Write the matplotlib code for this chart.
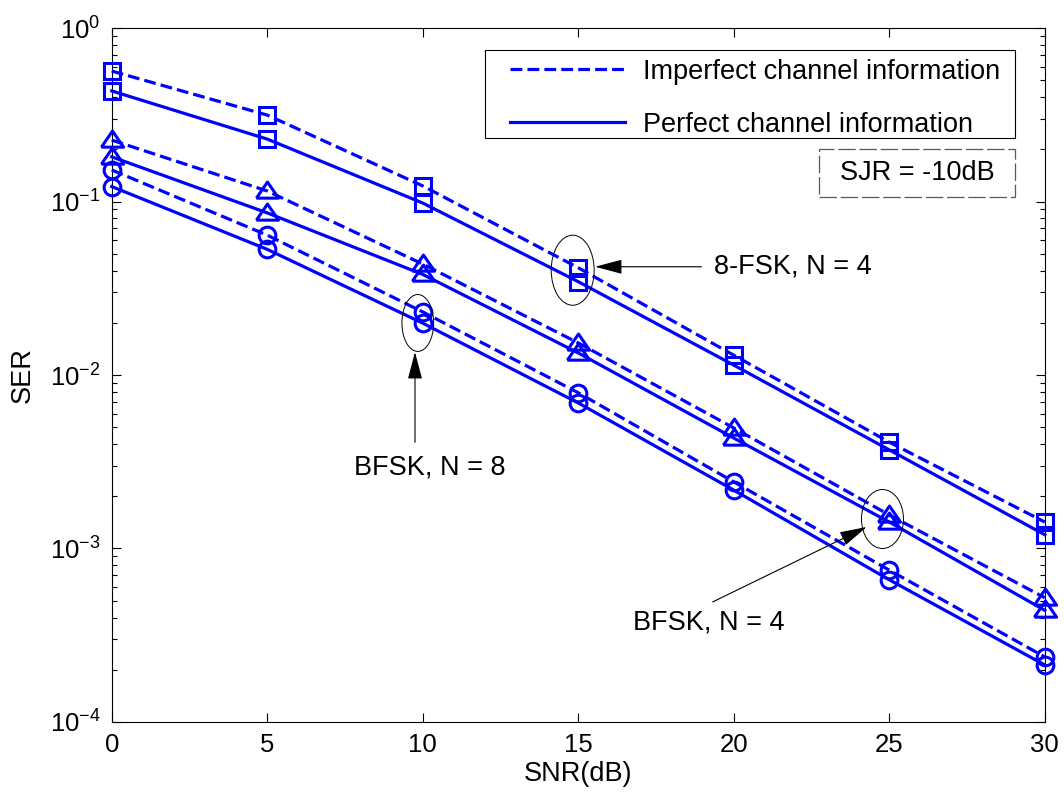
import numpy as np
import matplotlib
matplotlib.use("Agg")
import matplotlib.pyplot as plt
import matplotlib.patches as patches
from matplotlib.lines import Line2D
from matplotlib.ticker import LogLocator, NullFormatter

plt.rcParams['font.family'] = ['Liberation Sans', 'DejaVu Sans']
plt.rcParams['mathtext.fontset'] = 'custom'
plt.rcParams['mathtext.rm'] = 'Liberation Sans'
plt.rcParams['mathtext.it'] = 'Liberation Sans:italic'

snr = [0, 5, 10, 15, 20, 25, 30]

# 8-FSK, N = 4
fsk8_imperfect = [0.565, 0.315, 0.123, 0.0415, 0.0130, 0.0041, 0.00142]
fsk8_perfect = [0.434, 0.229, 0.098, 0.0345, 0.0114, 0.0037, 0.00120]
# BFSK, N = 4
bfsk4_imperfect = [0.226, 0.115, 0.0436, 0.0153, 0.00495, 0.00156, 0.00052]
bfsk4_perfect = [0.181, 0.086, 0.0380, 0.0134, 0.00433, 0.00142, 0.00044]
# BFSK, N = 8
bfsk8_imperfect = [0.152, 0.064, 0.0231, 0.0079, 0.00242, 0.00075, 0.000237]
bfsk8_perfect = [0.122, 0.053, 0.0199, 0.0069, 0.00217, 0.00066, 0.000213]

# matlab style triangle: wider than tall
tri = [(-1, -0.6), (1, -0.6), (0, 0.85), (-1, -0.6)]

series = [
    (fsk8_imperfect, fsk8_perfect, 's', 12),
    (bfsk4_imperfect, bfsk4_perfect, tri, 16),
    (bfsk8_imperfect, bfsk8_perfect, 'o', 12),
]

blue = '#0000ff'
fs = 19.5

fig = plt.figure(figsize=(10.64, 7.92), dpi=100)
ax = fig.add_axes([0.105, 0.0884, 0.877, 0.8762])

for imp, per, mk, ms in series:
    ax.semilogy(snr, imp, '--', color=blue, lw=2.3, marker=mk, ms=ms, mew=2.2,
                mfc='none', mec=blue, clip_on=False, zorder=3)
    ax.semilogy(snr, per, '-', color=blue, lw=2.3, marker=mk, ms=ms, mew=2.2,
                mfc='none', mec=blue, clip_on=False, zorder=3)

ax.set_xlim(0, 30)
ax.set_ylim(1e-4, 1)
ax.set_xticks(snr)
ax.yaxis.set_major_locator(LogLocator(base=10, numticks=10))
ax.yaxis.set_minor_locator(LogLocator(base=10, subs=np.arange(2, 10), numticks=20))
ax.yaxis.set_minor_formatter(NullFormatter())
ax.tick_params(which='both', direction='in', top=True, right=True, labelsize=18.5, width=0.8)
ax.tick_params(which='major', length=6.5, pad=8)
ax.tick_params(which='minor', length=3.5)
for sp in ax.spines.values():
    sp.set_linewidth(0.8)

ax.set_xlabel('SNR(dB)', fontsize=fs, labelpad=3)
ax.set_ylabel('SER', fontsize=fs, labelpad=10)

# legend: frame drawn separately so the inner margins match
ax.add_patch(patches.Rectangle((0.400, 0.841), 0.568, 0.127, transform=ax.transAxes,
                               fc='white', ec='k', lw=0.8, zorder=4))
handles = [Line2D([], [], color=blue, lw=2.3, ls='--'),
           Line2D([], [], color=blue, lw=2.3, ls='-')]
leg = ax.legend(handles, ['Imperfect channel information', 'Perfect channel information'],
                loc='upper left', bbox_to_anchor=(0.4266, 0.956), borderaxespad=0,
                fontsize=fs, handlelength=4.25, handletextpad=0.65, labelspacing=1.0,
                borderpad=0, frameon=False)
leg.set_zorder(5)

# SJR box
ax.add_patch(patches.Rectangle((0.758, 0.756), 0.210, 0.070, transform=ax.transAxes,
                               fill=True, fc='white', ec='0.35', lw=0.9,
                               ls=(0, (14, 3)), zorder=4))
ax.text(0.863, 0.791, 'SJR = -10dB', transform=ax.transAxes, fontsize=fs,
        ha='center', va='center', zorder=5)

# ellipses marking groups
for cx, cy, w, h in [(0.494, 0.651, 0.046, 0.101),
                     (0.328, 0.575, 0.034, 0.082),
                     (0.826, 0.2925, 0.045, 0.085)]:
    ax.add_patch(patches.Ellipse((cx, cy), w, h, transform=ax.transAxes,
                                 fill=False, ec='k', lw=0.7, zorder=4))

arrow = dict(arrowstyle='-|>,head_length=1.7,head_width=0.45', color='k', lw=0.8,
             shrinkA=0, shrinkB=0)
ax.annotate('', xy=(0.518, 0.656), xytext=(0.632, 0.656), xycoords='axes fraction',
            textcoords='axes fraction', arrowprops=arrow)
ax.text(0.645, 0.656, '8-FSK, N = 4', transform=ax.transAxes, fontsize=fs,
        ha='left', va='center')

ax.annotate('', xy=(0.325, 0.533), xytext=(0.325, 0.403), xycoords='axes fraction',
            textcoords='axes fraction', arrowprops=arrow)
ax.text(0.341, 0.367, 'BFSK, N = 8', transform=ax.transAxes, fontsize=fs,
        ha='center', va='center')

ax.annotate('', xy=(0.809, 0.281), xytext=(0.644, 0.173), xycoords='axes fraction',
            textcoords='axes fraction', arrowprops=arrow)
ax.text(0.640, 0.143, 'BFSK, N = 4', transform=ax.transAxes, fontsize=fs,
        ha='center', va='center')

plt.savefig('out.png', dpi=100)
plt.close()
